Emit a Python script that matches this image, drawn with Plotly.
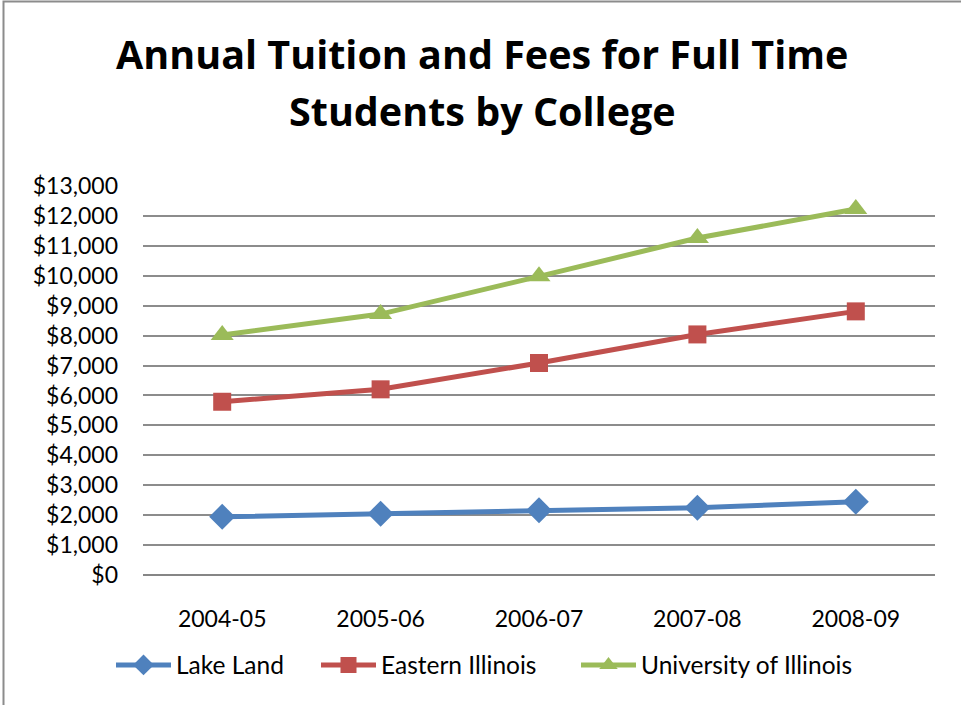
import plotly.graph_objects as go

categories = ["2004-05", "2005-06", "2006-07", "2007-08", "2008-09"]
lake_land = [1945, 2050, 2160, 2250, 2450]
eastern_illinois = [5790, 6205, 7085, 8040, 8810]
univ_illinois = [8020, 8720, 9980, 11260, 12230]
y_ticks = list(range(0, 13001, 1000))
y_tick_labels = ["${:,}".format(v) for v in y_ticks]
title_lines = ["Annual Tuition and Fees for Full Time", "Students by College"]

FONT = "Lato, Calibri, Carlito, sans-serif"
TFONT = "'Open Sans', Calibri, sans-serif"

W, H = 961, 705
L, R, T, B = 143, 935, 186, 575
PW, PH = R - L, B - T

legend_x_px = [117, 322, 582]
legend_ids = ["legend", "legend2", "legend3"]

fig = go.Figure()
series = [
    ("Lake Land", lake_land, "#4F81BD", "diamond", 20),
    ("Eastern Illinois", eastern_illinois, "#C0504D", "square", 18),
    ("University of Illinois", univ_illinois, "#9BBB59", "triangle-up", 20),
]
for (name, vals, col, sym, sz), lid in zip(series, legend_ids):
    fig.add_trace(go.Scatter(
        x=categories, y=vals, name=name, mode="lines+markers",
        line=dict(color=col, width=5),
        marker=dict(symbol=sym, size=sz, color=col),
        legend=lid,
    ))

def py(px):
    return 1 + (T - px) / PH

def pxx(px):
    return (px - L) / PW

annotations = []
for txt, ypx in zip(title_lines, [54, 111]):
    annotations.append(dict(
        text="<b>" + txt + "</b>", xref="paper", yref="paper",
        x=pxx(482), y=py(ypx), xanchor="center", yanchor="middle",
        showarrow=False, font=dict(family=TFONT, size=39.5, color="black"),
    ))

legend_common = dict(
    orientation="h", yanchor="middle", y=-(665 - B) / PH,
    font=dict(family=FONT, size=24.5), itemwidth=55, xanchor="left",
)
legends = {}
for lid, xp in zip(legend_ids, legend_x_px):
    legends[lid] = dict(legend_common, x=pxx(xp - 6))

fig.update_layout(
    width=W, height=H,
    paper_bgcolor="white", plot_bgcolor="white",
    margin=dict(l=L, r=W - R, t=T, b=H - B),
    font=dict(family=FONT, color="black"),
    annotations=annotations,
    showlegend=True,
    xaxis=dict(
        type="category", range=[-0.5, 4.5], showgrid=False, showline=False,
        ticks="", tickfont=dict(family=FONT, size=23), ticklabelstandoff=28,
    ),
    yaxis=dict(
        range=[0, 13000], tickvals=y_ticks, ticktext=y_tick_labels,
        showgrid=True, gridcolor="#8C8C8C", gridwidth=2,
        zeroline=True, zerolinecolor="#868686", zerolinewidth=2,
        showline=False, ticks="", tickfont=dict(family=FONT, size=23),
        ticklabelstandoff=24,
    ),
    shapes=[dict(type="rect", xref="paper", yref="paper",
                 x0=pxx(3.5), x1=pxx(W + 20),
                 y0=py(H + 20), y1=py(1.5),
                 line=dict(color="#8C8C8C", width=2), fillcolor="rgba(0,0,0,0)", layer="below")],
    **legends,
)

fig.write_html("out.html", config={"displayModeBar": False},
               post_script="document.body.style.margin='0';")
